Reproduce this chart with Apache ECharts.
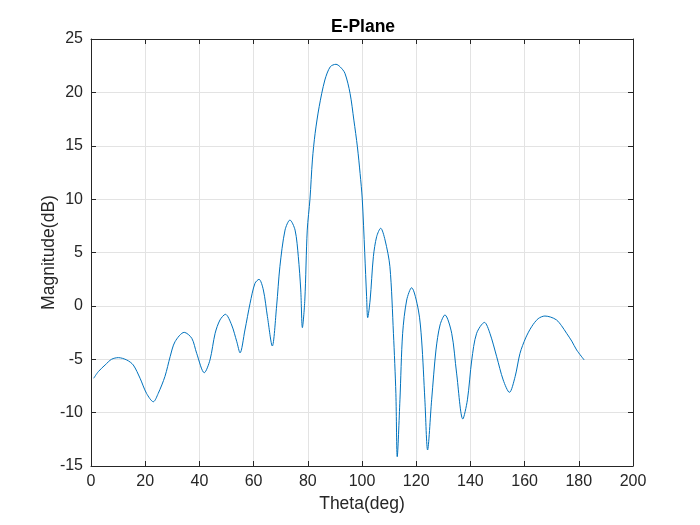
<!DOCTYPE html>
<html>
<head>
<meta charset="utf-8">
<script src="https://cdn.jsdelivr.net/npm/echarts@6/dist/echarts.min.js"></script>
<style>html,body{margin:0;padding:0;background:#fff;}#c{width:700px;height:525px;}</style>
</head>
<body>
<div id="c"></div>
<script>
const titleText = "E-Plane";
const xName = "Theta(deg)";
const yName = "Magnitude(dB)";
const xTicks = [0, 20, 40, 60, 80, 100, 120, 140, 160, 180, 200];
const yTicks = [-15, -10, -5, 0, 5, 10, 15, 20, 25];

const thetaDeg = [
  1, 2.7, 5.2, 7.6, 10.1, 13.2, 15.6, 18.1, 20.5, 23.0, 24.8, 27.3, 29.2, 31.0, 34.4,
  37.2, 39.0, 41.8, 43.9, 45.8, 47.6, 49.6, 51.9, 53.8, 55.0, 56.8, 58.7, 60.5, 62.0,
  63.6, 65.1, 66.9, 68.5, 69.7, 71.6, 73.4, 75.3, 76.5, 77.4, 78.0, 78.9, 79.8, 80.8,
  81.7, 82.7, 84.2, 86.3, 88.3, 90.4, 91.9, 93.7, 95.6, 97.0, 98.3, 99.3, 100.1, 101.0,
  101.7, 102.1, 103.0, 104.2, 105.4, 106.9, 108.5, 110.3, 111.6, 112.5, 113.0, 114.0,
  115.0, 116.5, 118.3, 120.8, 122.0, 123.2, 124.2, 125.7, 127.3, 128.8, 130.6, 133.1,
  134.9, 137.2, 138.9, 140.5, 142.3, 145.2, 147.2, 149.7, 152.1, 154.4, 156.5, 158.3,
  160.4, 162.6, 165.0, 167.5, 169.6, 171.8, 173.6, 175.5, 177.4, 179.2, 182.0
];
const magnitudeDb = [
  -6.78, -6.16, -5.54, -5.0, -4.85, -5.07, -5.54, -6.78, -8.2, -8.98, -8.2, -6.6, -4.76, -3.36, -2.48,
  -3.04, -4.45, -6.26, -5.07, -2.57, -1.32, -0.79, -1.79, -3.36, -4.4, -2.26, 0.24, 2.11, 2.49,
  1.49, -1.0, -3.76, 0.0, 3.67, 7.1, 8.04, 7.1, 4.61, 1.49, -2.04, 0.55, 7.1, 10.0,
  13.67, 16.16, 18.66, 21.16, 22.4, 22.63, 22.4, 21.79, 19.9, 17.4, 14.9, 12.4, 10.0, 5.0,
  0.86, -1.1, 0.55, 4.61, 6.48, 7.27, 6.17, 3.67, -2.57, -8.2, -14.13, -8.8,
  -2.57, 0.55, 1.7, -0.39, -3.2, -8.8, -13.5, -8.8, -4.13, -1.79, -0.85, -2.57,
  -6.3, -10.6, -8.8, -5.07, -2.57, -1.55, -2.57, -4.76, -6.94, -8.1, -6.63, -4.45,
  -3.0, -1.95, -1.2, -0.95, -1.05, -1.32, -1.85, -2.57, -3.3, -4.13, -5.07
];

const dataPts = thetaDeg.map((t, i) => [t, magnitudeDb[i]]);
const axisColor = '#262626';
const gridColor = '#e3e3e3';
const font = "'Liberation Sans', Arial, Helvetica, sans-serif";

const chart = echarts.init(document.getElementById('c'), null, {renderer: 'canvas'});
const baseX = {
  type: 'value', min: xTicks[0], max: xTicks[xTicks.length - 1], interval: 20,
  axisLine: {show: true, onZero: false, lineStyle: {color: axisColor, width: 1}},
  axisTick: {show: true, inside: true, length: 5, lineStyle: {color: axisColor}},
  splitLine: {show: false}
};
const baseY = {
  type: 'value', min: yTicks[0], max: yTicks[yTicks.length - 1], interval: 5,
  axisLine: {show: true, onZero: false, lineStyle: {color: axisColor, width: 1}},
  axisTick: {show: true, inside: true, length: 5, lineStyle: {color: axisColor}},
  splitLine: {show: false}
};
chart.setOption({
  animation: false,
  backgroundColor: '#ffffff',
  title: {
    text: titleText, left: 358, top: 13, textAlign: 'center',
    textStyle: {fontFamily: font, fontSize: 17.5, fontWeight: 'bold', color: '#000'}
  },
  grid: {left: 91, top: 39, width: 542, height: 427, containLabel: false},
  xAxis: [
    Object.assign({}, baseX, {
      position: 'bottom',
      splitLine: {show: true, lineStyle: {color: gridColor, width: 1}},
      axisLabel: {show: true, color: axisColor, fontFamily: font, fontSize: 16, margin: 8},
      name: xName, nameLocation: 'middle', nameGap: 29, nameMoveOverlap: false,
      nameTextStyle: {color: axisColor, fontFamily: font, fontSize: 17.5, verticalAlign: 'top'}
    }),
    Object.assign({}, baseX, {position: 'top', axisLabel: {show: false}})
  ],
  yAxis: [
    Object.assign({}, baseY, {
      position: 'left',
      splitLine: {show: true, lineStyle: {color: gridColor, width: 1}},
      axisLabel: {show: true, color: axisColor, fontFamily: font, fontSize: 16, margin: 8},
      name: yName, nameLocation: 'middle', nameGap: 33, nameMoveOverlap: false,
      nameTextStyle: {color: axisColor, fontFamily: font, fontSize: 17.5}
    }),
    Object.assign({}, baseY, {position: 'right', axisLabel: {show: false}})
  ],
  series: [{
    type: 'line', data: dataPts, xAxisIndex: 0, yAxisIndex: 0,
    showSymbol: false, symbol: 'none', smooth: 0.3,
    lineStyle: {color: '#0072BD', width: 1},
    itemStyle: {color: '#0072BD'}
  }]
});
</script>
</body>
</html>
